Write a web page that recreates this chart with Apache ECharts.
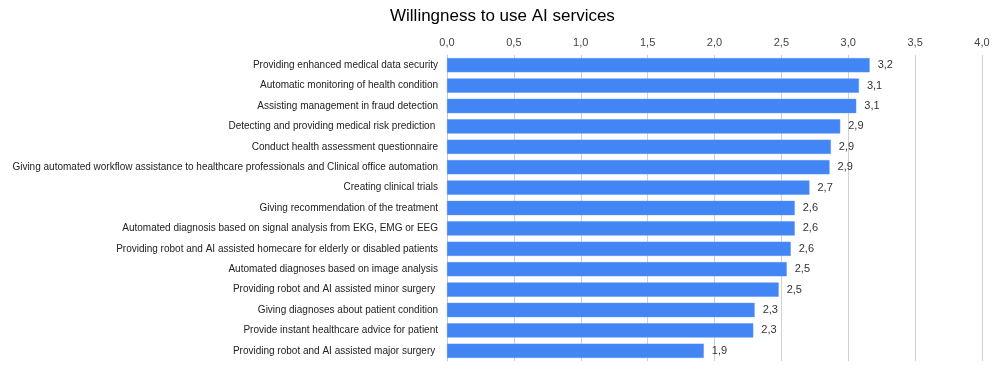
<!DOCTYPE html>
<html><head><meta charset="utf-8">
<script src="https://cdn.jsdelivr.net/npm/echarts@6/dist/echarts.min.js"></script>
<style>html,body{margin:0;padding:0;background:#fff}#c{width:1000px;height:371px}</style>
</head><body><div id="c"></div>
<script>
const categories = [
  "Providing enhanced medical data security",
  "Automatic monitoring of health condition",
  "Assisting management in fraud detection",
  "Detecting and providing medical risk prediction ",
  "Conduct health assessment questionnaire",
  "Giving automated workflow assistance to healthcare professionals and Clinical office automation",
  "Creating clinical trials",
  "Giving recommendation of the treatment",
  "Automated diagnosis based on signal analysis from EKG, EMG or EEG",
  "Providing robot and AI assisted homecare for elderly or disabled patients",
  "Automated diagnoses based on image analysis",
  "Providing robot and AI assisted minor surgery ",
  "Giving diagnoses about patient condition",
  "Provide instant healthcare advice for patient",
  "Providing robot and AI assisted major surgery "
];
const values = [3.16, 3.08, 3.06, 2.94, 2.87, 2.86, 2.71, 2.60, 2.60, 2.57, 2.54, 2.48, 2.30, 2.29, 1.92];
const tickLabels = ["0,0","0,5","1,0","1,5","2,0","2,5","3,0","3,5","4,0"];
const titleText = "Willingness to use AI services";

const chart = echarts.init(document.getElementById('c'), null, {renderer:'canvas'});
chart.setOption({
  animation:false,
  backgroundColor:'#fff',
  textStyle:{fontFamily:'Liberation Sans, Arial, sans-serif'},
  title:{text:titleText, left:385, top:3,
    textStyle:{fontSize:17, fontWeight:'normal', color:'#000', fontFamily:'Liberation Sans, Arial, sans-serif'}},
  grid:{left:447, right:18, top:55, bottom:10, containLabel:false, outerBoundsMode:'none'},
  xAxis:{type:'value', position:'top', min:0, max:4, interval:0.5,
    axisLine:{show:false}, axisTick:{show:false},
    axisLabel:{color:'#444', fontSize:11, margin:7,
      formatter:(v)=>tickLabels[Math.round(v/0.5)]},
    splitLine:{lineStyle:{color:'#d0d0d0', width:1}}},
  yAxis:{type:'category', inverse:true, data:categories,
    axisLine:{show:true, lineStyle:{color:'#c8c8c8'}}, axisTick:{show:false},
    axisLabel:{color:'#222', fontSize:10, margin:9, interval:0}},
  series:[{type:'bar', data:values, barCategoryGap:'30%',
    itemStyle:{color:'#4285F4', borderColor:'#5a95f5', borderWidth:0.5},
    label:{show:true, position:'right', distance:8, color:'#333', fontSize:11,
      formatter:(p)=>p.value.toFixed(1).replace('.', ',')}}]
});
</script></body></html>
